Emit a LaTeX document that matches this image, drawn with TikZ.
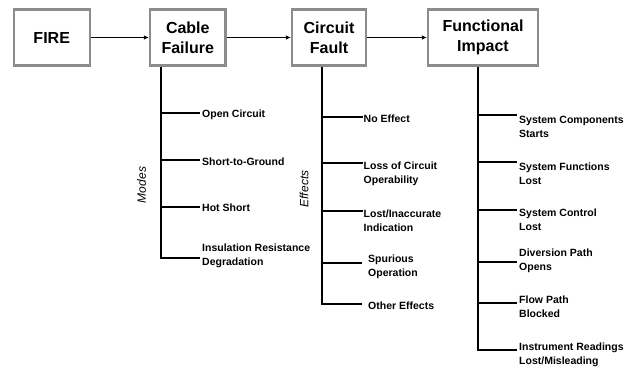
\documentclass[tikz,border=0pt]{standalone}
\usepackage{fontspec}
\setmainfont{Liberation Sans}
\usetikzlibrary{arrows.meta,positioning}
\definecolor{boxgray}{RGB}{140,140,140}

\begin{document}
\begin{tikzpicture}[x=1pt,y=-1pt]
		\useasboundingbox (0,0) rectangle (635,369);
		\begin{scope}[every node/.style={draw=boxgray,line width=2.3pt,minimum height=56pt,align=center,font=\fontsize{16}{20}\selectfont\bfseries}]
			\node[minimum width=76pt] (fire) at (51.7,37.5) {FIRE};
			\node[minimum width=75.4pt] (cable) at (187.8,37.5) {Cable\\Failure};
			\node[minimum width=74pt] (fault) at (329,37.5) {Circuit\\Fault};
			\node[minimum width=110pt] (impact) at (483,37.5) {Functional\\Impact};
		\end{scope}
		\begin{scope}[>={Latex[length=5pt,width=4.5pt]},line width=0.9pt]
			\path (fire) edge[->] (cable);
			\path (cable) edge[->] (fault);
			\path (fault) edge[->] (impact);
		\end{scope}
		% failure modes
		\coordinate (cbx) at (161,0);
		\coordinate (cb1) at (200,113.3);
		\coordinate (cb2) at (200,160);
		\coordinate (cb3) at (200,206.7);
		\coordinate (cb4) at (200,258.3);
		% circuit effects
		\coordinate (cfx) at (322,0);
		\coordinate (cf1) at (362.5,116.7);
		\coordinate (cf2) at (362.5,163.3);
		\coordinate (cf3) at (362.5,210.7);
		\coordinate (cf4) at (362,262.7);
		\coordinate (cf5) at (362,304);
		% functional impacts
		\coordinate (fix) at (478,0);
		\coordinate (fi1) at (517,115);
		\coordinate (fi2) at (517,161.7);
		\coordinate (fi3) at (517,210);
		\coordinate (fi4) at (517,261.7);
		\coordinate (fi5) at (517,303.3);
		\coordinate (fi6) at (517,350);
		\begin{scope}[line width=2pt]
			\draw (cable.south -| cbx) |- (cb4);
			\draw (cb1 -| cbx) -- (cb1);
			\draw (cb2 -| cbx) -- (cb2);
			\draw (cb3 -| cbx) -- (cb3);
			\draw (fault.south -| cfx) |- (cf5);
			\draw (cf1 -| cfx) -- (cf1);
			\draw (cf2 -| cfx) -- (cf2);
			\draw (cf3 -| cfx) -- (cf3);
			\draw (cf4 -| cfx) -- (cf4);
			\draw (impact.south -| fix) |- (fi6);
			\draw (fi1 -| fix) -- (fi1);
			\draw (fi2 -| fix) -- (fi2);
			\draw (fi3 -| fix) -- (fi3);
			\draw (fi4 -| fix) -- (fi4);
			\draw (fi5 -| fix) -- (fi5);
		\end{scope}
		\begin{scope}[every node/.style={anchor=west,inner sep=0pt,align=left,font=\fontsize{10.5}{14}\selectfont\bfseries}]
			\node (open) at (202,115) {Open Circuit};
			\node (ground) at (202,161.7) {Short-to-Ground};
			\node (hot) at (202,207.7) {Hot Short};
			\node (insul) at (202,256) {Insulation Resistance\\Degradation};
			\node (noeff) at (363.5,119) {No Effect};
			\node (losscirc) at (363.5,173.3) {Loss of Circuit\\Operability};
			\node (lostind) at (363.5,220.3) {Lost/Inaccurate\\Indication};
			\node (spur) at (368,266.3) {Spurious\\Operation};
			\node (other) at (368,306) {Other Effects};
			\node (starts) at (519,126.7) {System Components\\Starts};
			\node (funclost) at (519,173.3) {System Functions\\Lost};
			\node (ctrllost) at (519,220) {System Control\\Lost};
			\node (divert) at (519,260.8) {Diversion Path\\Opens};
			\node (blocked) at (519,306.7) {Flow Path\\Blocked};
			\node (readings) at (519,354.5) {Instrument Readings\\Lost/Misleading};
		\end{scope}
		\begin{scope}[every node/.style={rotate=90,font=\fontsize{12}{14}\selectfont\itshape}]
			\node (modes) at (141.7,185) {Modes};
			\node (effects) at (304,189) {Effects};
		\end{scope}
	\end{tikzpicture}
\end{document}
